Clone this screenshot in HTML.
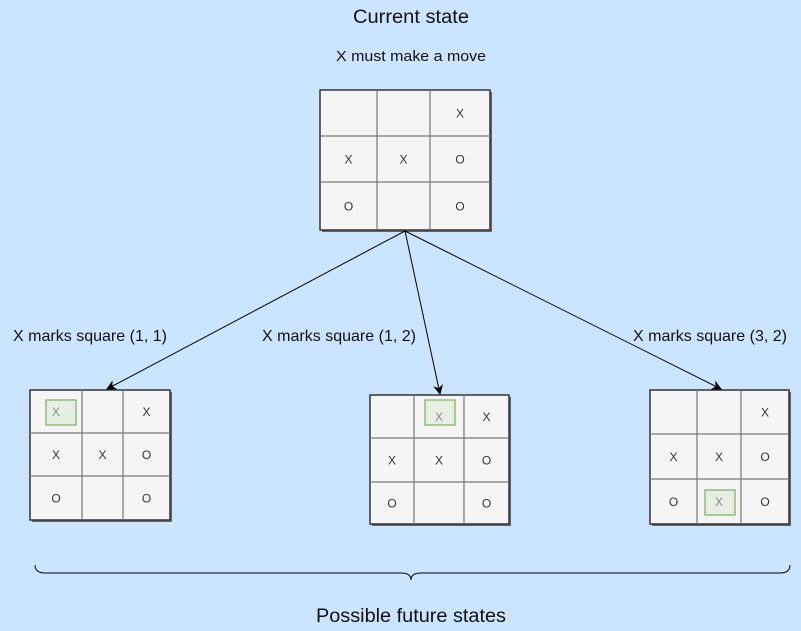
<!DOCTYPE html>
<html><head><meta charset="utf-8"><style>
html,body{margin:0;padding:0;background:#cce5ff;}
svg{display:block;font-family:"Liberation Sans",sans-serif;}
</style></head><body>
<svg width="801" height="631" viewBox="0 0 801 631">
<defs><marker id="ah" markerWidth="10" markerHeight="10" refX="9" refY="5" orient="auto" markerUnits="userSpaceOnUse"><path d="M0,0 L10,5 L0,10 L3,5 Z" fill="#000"/></marker></defs>
<text x="353" y="23" font-size="19" textLength="116" lengthAdjust="spacingAndGlyphs" fill="#111">Current state</text>
<text x="336" y="61" font-size="15" textLength="150" lengthAdjust="spacingAndGlyphs" fill="#111">X must make a move</text>
<g id="boards"></g>
<g stroke="#000" stroke-width="1">
<line x1="405" y1="231" x2="107" y2="389" marker-end="url(#ah)"/>
<line x1="405" y1="231" x2="440" y2="394" marker-end="url(#ah)"/>
<line x1="405" y1="231" x2="721" y2="389" marker-end="url(#ah)"/>
</g>
<text x="13" y="341" font-size="16" textLength="154" lengthAdjust="spacingAndGlyphs" fill="#111">X marks square (1, 1)</text>
<text x="262" y="341" font-size="16" textLength="154" lengthAdjust="spacingAndGlyphs" fill="#111">X marks square (1, 2)</text>
<text x="633" y="341" font-size="16" textLength="154" lengthAdjust="spacingAndGlyphs" fill="#111">X marks square (3, 2)</text>
<path d="M35,565 Q35,573 45,573 L401,573 Q411,573 411,580 Q411,573 421,573 L780,573 Q790,573 790,565" fill="none" stroke="#000" stroke-width="1"/>
<text x="316" y="622" font-size="19" textLength="190" lengthAdjust="spacingAndGlyphs" fill="#111">Possible future states</text>
</svg>
<script>
const boards=[
 {name:'current-board',cols:[320,377,430,490],rows:[90,136,182,230],cells:['','','X','X','X','O','O','','O'],hl:null},
 {name:'board-move-1-1',cols:[30,82,123,170],rows:[390,433,476,520],cells:['X','','X','X','X','O','O','','O'],hl:[46,400,30,25,0]},
 {name:'board-move-1-2',cols:[370,414,464,509],rows:[395,438,482,524],cells:['','X','X','X','X','O','O','','O'],hl:[425,400,30,25,1]},
 {name:'board-move-3-2',cols:[650,697,741,789],rows:[390,434,479,524],cells:['','','X','X','X','O','O','X','O'],hl:[705,490,30,25,7]}
];
const NS='http://www.w3.org/2000/svg';
const g=document.getElementById('boards');
function mk(t,a,p){const e=document.createElementNS(NS,t);for(const k in a)e.setAttribute(k,a[k]);p.appendChild(e);return e;}
boards.forEach(b=>{
 const bg=mk('g',{},g);
 
 
 const c=b.cols,r=b.rows;
 mk('rect',{x:c[0]+2,y:r[0]+2,width:c[3]-c[0],height:r[3]-r[0],fill:'#666'},bg);
 mk('rect',{x:c[0],y:r[0],width:c[3]-c[0],height:r[3]-r[0],fill:'#f5f5f5',stroke:'#333','stroke-width':1.5},bg);
 for(let i=1;i<3;i++){
  mk('line',{x1:c[i],y1:r[0],x2:c[i],y2:r[3],stroke:'#777','stroke-width':1.2},bg);
  mk('line',{x1:c[0],y1:r[i],x2:c[3],y2:r[i],stroke:'#777','stroke-width':1.2},bg);
 }
 if(b.hl){const h=mk('rect',{x:b.hl[0],y:b.hl[1],width:b.hl[2],height:b.hl[3],fill:'#e7efe3',stroke:'#82b366','stroke-width':1.3},bg);
  
  }
 b.cells.forEach((v,i)=>{
  if(!v)return;
  const col=i%3,row=Math.floor(i/3);
  const t=mk('text',{x:(c[col]+c[col+1])/2,y:(r[row]+r[row+1])/2+4.5,'font-size':12,'text-anchor':'middle',fill:(b.hl&&b.hl[4]===i)?'#888':'#333'},bg);
  t.textContent=v;
  
  
 });
});
</script>
</body></html>
